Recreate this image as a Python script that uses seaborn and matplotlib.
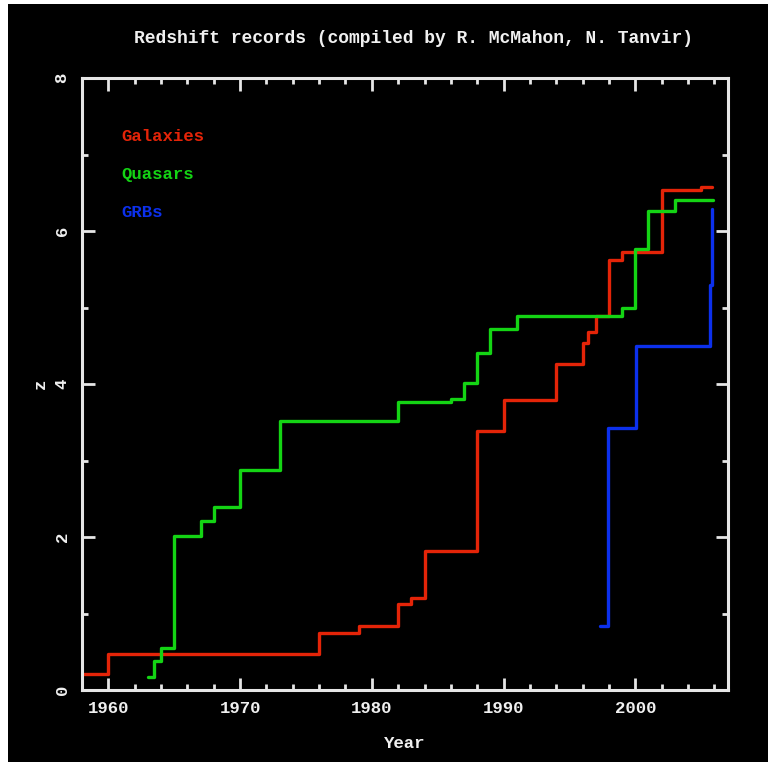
import matplotlib
matplotlib.use("Agg")
import matplotlib.pyplot as plt
from matplotlib.patches import Rectangle
from matplotlib.ticker import MultipleLocator
import seaborn as sns
import pandas as pd

# Redshift record holders: year the record was set, redshift z
galaxy_years = [1958, 1960, 1976, 1979, 1982, 1983, 1984, 1988, 1990, 1994,
                1996, 1996.4, 1997, 1998, 1999, 2002, 2005, 2005.8]
galaxy_z = [0.21, 0.47, 0.75, 0.84, 1.13, 1.20, 1.82, 3.38, 3.79, 4.26,
            4.54, 4.68, 4.89, 5.62, 5.72, 6.53, 6.58, 6.58]

quasar_years = [1963, 1963.5, 1964, 1965, 1967, 1968, 1970, 1973, 1982, 1986,
                1987, 1988, 1989, 1991, 1999, 2000, 2001, 2003, 2005.9]
quasar_z = [0.17, 0.38, 0.55, 2.01, 2.21, 2.39, 2.88, 3.52, 3.77, 3.80,
            4.01, 4.41, 4.72, 4.89, 4.99, 5.77, 6.26, 6.40, 6.40]

grb_years = [1997.3, 1997.9, 2000.05, 2005.65, 2005.8]
grb_z = [0.84, 3.42, 4.50, 5.30, 6.29]

series_names = ["Galaxies", "Quasars", "GRBs"]
series_colors = ["#e42408", "#14d414", "#0c30ec"]

frames = []
for name, yrs, zs in zip(series_names,
                         [galaxy_years, quasar_years, grb_years],
                         [galaxy_z, quasar_z, grb_z]):
    frames.append(pd.DataFrame({"Year": yrs, "z": zs, "kind": name}))
df = pd.concat(frames, ignore_index=True)

sns.set_theme(style="dark")
plt.rcParams["font.family"] = ["Liberation Mono", "DejaVu Sans Mono"]
plt.rcParams["font.weight"] = "bold"

fig = plt.figure(figsize=(7.68, 7.62), dpi=100, facecolor="black")
ax = fig.add_axes([82 / 768, 1 - 690 / 762, (727.5 - 82) / 768, (690 - 78) / 762])
ax.set_facecolor("black")

for name, color in zip(series_names, series_colors):
    sns.lineplot(data=df[df["kind"] == name], x="Year", y="z", ax=ax,
                 color=color, linewidth=2.4, drawstyle="steps-post",
                 estimator=None, sort=True, legend=False)

ax.set_xlim(1958, 2007)
ax.set_ylim(0, 8)
ax.grid(False)
for sp in ax.spines.values():
    sp.set_color("#e6e6e6")
    sp.set_linewidth(2.2)

ax.xaxis.set_major_locator(MultipleLocator(10))
ax.xaxis.set_minor_locator(MultipleLocator(2))
ax.yaxis.set_major_locator(MultipleLocator(2))
ax.yaxis.set_minor_locator(MultipleLocator(1))
ax.tick_params(which="both", direction="in", colors="#e6e6e6", width=2,
               top=True, right=True, bottom=True, left=True,
               labelsize=12.5, labelcolor="#f0f0f0")
ax.tick_params(which="major", length=9)
ax.tick_params(which="minor", length=4.5)
ax.tick_params(axis="x", pad=8)
ax.tick_params(axis="y", pad=9)
for lbl in ax.get_yticklabels():
    lbl.set_rotation(90)
    lbl.set_va("center")

ax.set_xlabel("Year", color="#f0f0f0", fontsize=12.5, fontweight="bold", labelpad=14)
ax.set_ylabel("z", color="#f0f0f0", fontsize=12.5, fontweight="bold", labelpad=5)
ax.set_title("Redshift records (compiled by R. McMahon, N. Tanvir)",
             color="#f0f0f0", fontsize=13, fontweight="bold", pad=25, x=0.513)

# Coloured key in the upper left
for i, (name, color) in enumerate(zip(series_names, series_colors)):
    ax.text(1961.0, 7.24 - i * 0.5, name, color=color, fontsize=12.5,
            fontweight="bold", ha="left", va="center")

# White margin strips on the left and top edges of the image
fig.patches.append(Rectangle((0, 0), 8 / 768, 1, transform=fig.transFigure,
                             facecolor="white", edgecolor="none", zorder=10))
fig.patches.append(Rectangle((0, 1 - 4 / 762), 1, 4 / 762, transform=fig.transFigure,
                             facecolor="white", edgecolor="none", zorder=10))

fig.savefig("out.png", dpi=100, facecolor="black")
